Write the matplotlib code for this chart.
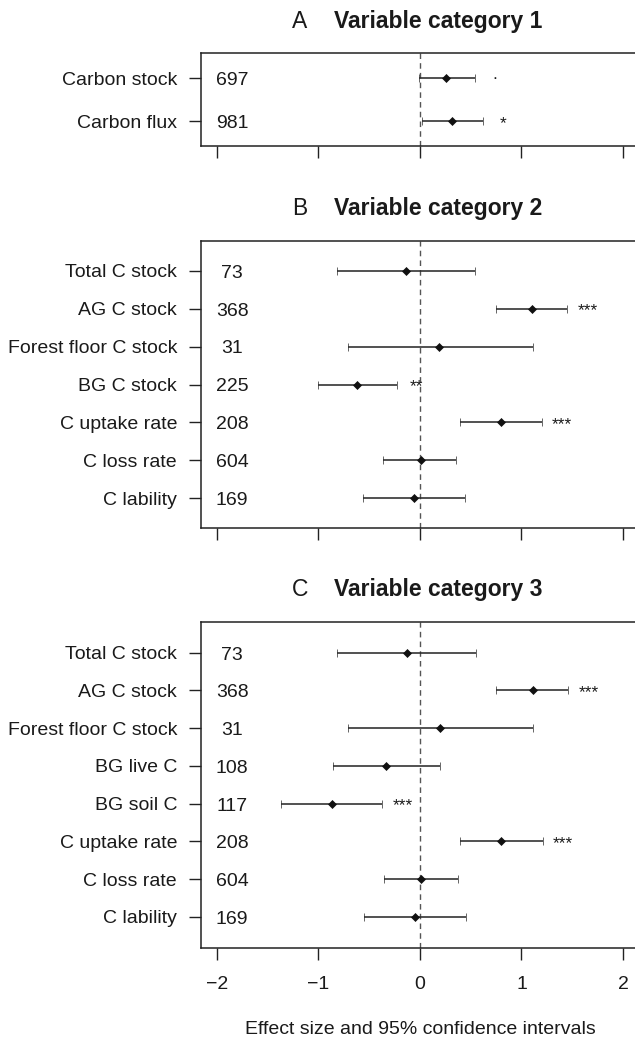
"""
Forest plot: effect sizes with 95% CI for three variable categories.
Saves out.png (635 x 1040 px).
"""

import matplotlib
matplotlib.use("Agg")
import matplotlib.pyplot as plt

# ---- panel A ----
A_LABELS = ["Carbon stock", "Carbon flux"]
A_N = [697, 981]
A_EST = [0.26, 0.32]
A_LO = [-0.01, 0.02]
A_HI = [0.54, 0.62]
A_SIG = [".", "*"]

# ---- panel B ----
B_LABELS = ["Total C stock", "AG C stock", "Forest floor C stock", "BG C stock",
            "C uptake rate", "C loss rate", "C lability"]
B_N = [73, 368, 31, 225, 208, 604, 169]
B_EST = [-0.14, 1.10, 0.19, -0.62, 0.80, 0.01, -0.06]
B_LO = [-0.82, 0.75, -0.71, -1.00, 0.39, -0.36, -0.56]
B_HI = [0.54, 1.45, 1.11, -0.23, 1.20, 0.36, 0.44]
B_SIG = ["", "***", "", "**", "***", "", ""]

# ---- panel C ----
C_LABELS = ["Total C stock", "AG C stock", "Forest floor C stock", "BG live C",
            "BG soil C", "C uptake rate", "C loss rate", "C lability"]
C_N = [73, 368, 31, 108, 117, 208, 604, 169]
C_EST = [-0.13, 1.11, 0.20, -0.33, -0.87, 0.80, 0.01, -0.05]
C_LO = [-0.82, 0.75, -0.71, -0.86, -1.37, 0.39, -0.35, -0.55]
C_HI = [0.55, 1.46, 1.11, 0.20, -0.37, 1.21, 0.37, 0.45]
C_SIG = ["", "***", "", "", "***", "***", "", ""]

X_TICKS = [-2, -1, 0, 1, 2]

FONT = ["Liberation Sans", "DejaVu Sans"]
INK = "#1a1a1a"
W, H = 635, 1040
LEFT, WIDTH = 200.7 / W, 438.5 / W
N_X = -1.85          # where the sample sizes are written
STAR_GAP = 0.2       # significance marks sit this far right of the upper CI

plt.rcParams["font.family"] = FONT
plt.rcParams["font.size"] = 14


def panel(fig, top_px, bottom_px, letter, title, labels, n, est, lo, hi, sig,
          show_xticklabels=False):
    ax = fig.add_axes([LEFT, 1 - bottom_px / H, WIDTH, (bottom_px - top_px) / H])
    k = len(labels)
    ys = list(range(1, k + 1))
    pad = 0.5 + 0.04 * k
    ax.set_ylim(k + pad, 1 - pad)
    ax.set_xlim(-2.16, 2.16)

    ax.axvline(0, color="#555555", lw=1.0, ls=(0, (4, 3)), zorder=1)
    err_lo = [e - l for e, l in zip(est, lo)]
    err_hi = [h - e for e, h in zip(est, hi)]
    ax.errorbar(est, ys, xerr=[err_lo, err_hi], fmt="D", color="#111111",
                ecolor="#2a2a2a", elinewidth=1.15, capsize=3, capthick=1.1,
                ms=3.6, mew=0.5, zorder=3)

    # sample sizes, digits centred on the row
    for y, cnt in zip(ys, n):
        ax.annotate(str(cnt), xy=(N_X, y), xytext=(0, -5.0), textcoords="offset points",
                    ha="center", va="baseline", fontsize=14, color=INK)
    for y, h, s in zip(ys, hi, sig):
        if not s:
            continue
        fs = 12.5
        dy = -0.05 * fs if s == "." else -0.4 * fs
        ax.annotate(s, xy=(h + STAR_GAP, y), xytext=(0, dy), textcoords="offset points",
                    ha="center", va="baseline", fontsize=fs, color=INK)

    ax.set_yticks(ys)
    ax.set_yticklabels(labels, color=INK)
    ax.set_xticks(X_TICKS)
    if show_xticklabels:
        ax.set_xticklabels([str(t).replace("-", "\u2212") for t in X_TICKS], color=INK)
    else:
        ax.set_xticklabels([])
    ax.tick_params(axis="both", direction="out", length=8.6, width=1.0, color="#222222")
    ax.tick_params(axis="y", pad=8.4)
    ax.tick_params(axis="x", pad=12)
    for sp in ax.spines.values():
        sp.set_color("#222222")
        sp.set_linewidth(1.1)

    # title: plain letter, then bold heading
    ax.annotate(letter, xy=(-1.184, 1), xycoords=("data", "axes fraction"),
                xytext=(0, 18.4), textcoords="offset points",
                ha="center", va="baseline", fontsize=16.5, color=INK)
    ax.annotate(title, xy=(-0.851, 1), xycoords=("data", "axes fraction"),
                xytext=(0, 18.4), textcoords="offset points",
                ha="left", va="baseline", fontsize=16.5, fontweight="bold", color=INK)
    return ax


def main():
    fig = plt.figure(figsize=(W / 100, H / 100), dpi=100)
    panel(fig, 53.3, 146.0, "A", "Variable category 1",
          A_LABELS, A_N, A_EST, A_LO, A_HI, A_SIG)
    panel(fig, 241.0, 528.0, "B", "Variable category 2",
          B_LABELS, B_N, B_EST, B_LO, B_HI, B_SIG)
    ax = panel(fig, 621.7, 947.7, "C", "Variable category 3",
               C_LABELS, C_N, C_EST, C_LO, C_HI, C_SIG, show_xticklabels=True)
    ax.set_xlabel("Effect size and 95% confidence intervals", fontsize=14,
                  color=INK, labelpad=20)
    fig.savefig("out.png", dpi=100)
    plt.close(fig)


if __name__ == "__main__":
    main()
